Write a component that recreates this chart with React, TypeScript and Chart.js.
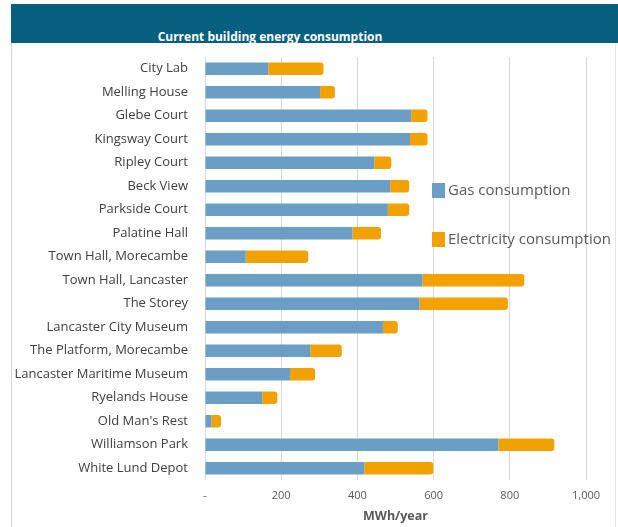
import { useEffect, useRef } from 'react';
import { Chart, registerables } from 'chart.js';

Chart.register(...registerables);

const chartTitle = 'Current building energy consumption';
const xAxisTitle = 'MWh/year';
const seriesNames = ['Gas consumption', 'Electricity consumption'];
const seriesColors = ['#6A9EC4', '#F2A200'];

const buildings = [
  'City Lab',
  'Melling House',
  'Glebe Court',
  'Kingsway Court',
  'Ripley Court',
  'Beck View',
  'Parkside Court',
  'Palatine Hall',
  'Town Hall, Morecambe',
  'Town Hall, Lancaster',
  'The Storey',
  'Lancaster City Museum',
  'The Platform, Morecambe',
  'Lancaster Maritime Museum',
  'Ryelands House',
  "Old Man's Rest",
  'Williamson Park',
  'White Lund Depot',
];

const gasConsumption = [166, 302, 541, 538, 444, 486, 480, 387, 107, 571, 563, 467, 276, 223, 150, 17, 770, 418];
const electricityConsumption = [145, 39, 43, 46, 45, 50, 56, 75, 164, 267, 232, 39, 83, 66, 40, 25, 147, 181];

const xTickValues = [0, 200, 400, 600, 800, 1000];
const xTickLabels = ['-', '200', '400', '600', '800', '1,000'];

const FONT = "'Open Sans', 'Liberation Sans', sans-serif";

const legendPlugin = {
  id: 'overlayLegend',
  afterDraw(chart: any) {
    const ctx = chart.ctx;
    const area = chart.chartArea;
    const rows = [
      { dy: 126, label: chart.data.datasets[0].label, color: chart.data.datasets[0].backgroundColor },
      { dy: 175, label: chart.data.datasets[1].label, color: chart.data.datasets[1].backgroundColor },
    ];
    ctx.save();
    rows.forEach((r) => {
      const bx = area.left + 227;
      const by = area.top + r.dy;
      ctx.fillStyle = r.color;
      ctx.fillRect(bx, by, 13, 15);
      ctx.fillStyle = '#595959';
      ctx.font = `15px ${FONT}`;
      ctx.textAlign = 'left';
      ctx.textBaseline = 'middle';
      ctx.fillText(r.label, bx + 16, by + 8);
    });
    ctx.restore();
  },
};

export default function App() {
  const canvasRef = useRef<HTMLCanvasElement | null>(null);

  useEffect(() => {
    const canvas = canvasRef.current;
    if (!canvas) return;
    const chart = new Chart(canvas, {
      type: 'bar',
      data: {
        labels: buildings,
        datasets: [
          {
            label: seriesNames[0],
            data: gasConsumption,
            backgroundColor: seriesColors[0],
            borderWidth: 0,
            categoryPercentage: 1,
            barPercentage: 0.53,
          },
          {
            label: seriesNames[1],
            data: electricityConsumption,
            backgroundColor: seriesColors[1],
            borderWidth: 0,
            borderRadius: 3,
            categoryPercentage: 1,
            barPercentage: 0.53,
          },
        ],
      },
      options: {
        indexAxis: 'y',
        responsive: false,
        maintainAspectRatio: false,
        animation: false,
        layout: { padding: { top: 14, right: 32, left: 0, bottom: 0 } },
        plugins: {
          legend: { display: false },
          title: { display: false },
          tooltip: { enabled: false },
        },
        scales: {
          x: {
            stacked: true,
            min: 0,
            max: 1000,
            afterBuildTicks: (scale: any) => {
              scale.ticks = xTickValues.map((v) => ({ value: v }));
            },
            afterFit: (scale: any) => {
              scale.height = 47;
            },
            grid: { color: '#D9D9D9', drawTicks: false, lineWidth: 1 },
            border: { display: false },
            ticks: {
              padding: 9,
              color: '#595959',
              font: { family: FONT, size: 11 },
              callback: (value: any) => {
                const i = xTickValues.indexOf(Number(value));
                return i >= 0 ? xTickLabels[i] : '';
              },
            },
            title: {
              display: true,
              text: xAxisTitle,
              color: '#595959',
              font: { family: FONT, size: 12.5, weight: 'bold' },
              padding: { top: 0, bottom: 3 },
            },
          },
          y: {
            stacked: true,
            afterFit: (scale: any) => {
              scale.width = 205;
              scale.paddingTop = 0;
              scale.paddingBottom = 0;
            },
            grid: { display: false, drawTicks: false },
            border: { display: false },
            ticks: {
              padding: 17,
              color: '#404040',
              font: { family: FONT, size: 13 },
              autoSkip: false,
            },
          },
        },
      },
      plugins: [legendPlugin],
    } as any);
    return () => chart.destroy();
  }, []);

  return (
    <div style={{ position: 'absolute', left: 0, top: 0, width: 618, height: 527, background: '#fff', overflow: 'hidden' }}>
      <div
        style={{
          position: 'absolute',
          left: 11,
          top: 4,
          width: 607,
          height: 39,
          background: '#065F7E',
        }}
      >
        <div
          style={{
            position: 'absolute',
            left: 0,
            width: 518,
            top: 26,
            textAlign: 'center',
            color: '#ffffff',
            fontFamily: FONT,
            fontWeight: 'bold',
            fontSize: 12,
            lineHeight: '14px',
          }}
        >
          {chartTitle}
        </div>
      </div>
      <div style={{ position: 'absolute', left: 11, top: 43, width: 1, height: 484, background: '#D4D4D4' }} />
      <div style={{ position: 'absolute', left: 615, top: 43, width: 1, height: 484, background: '#E6E6E6' }} />
      <canvas
        ref={canvasRef}
        width={618}
        height={484}
        style={{ position: 'absolute', left: 0, top: 43, width: 618, height: 484 }}
      />
    </div>
  );
}
